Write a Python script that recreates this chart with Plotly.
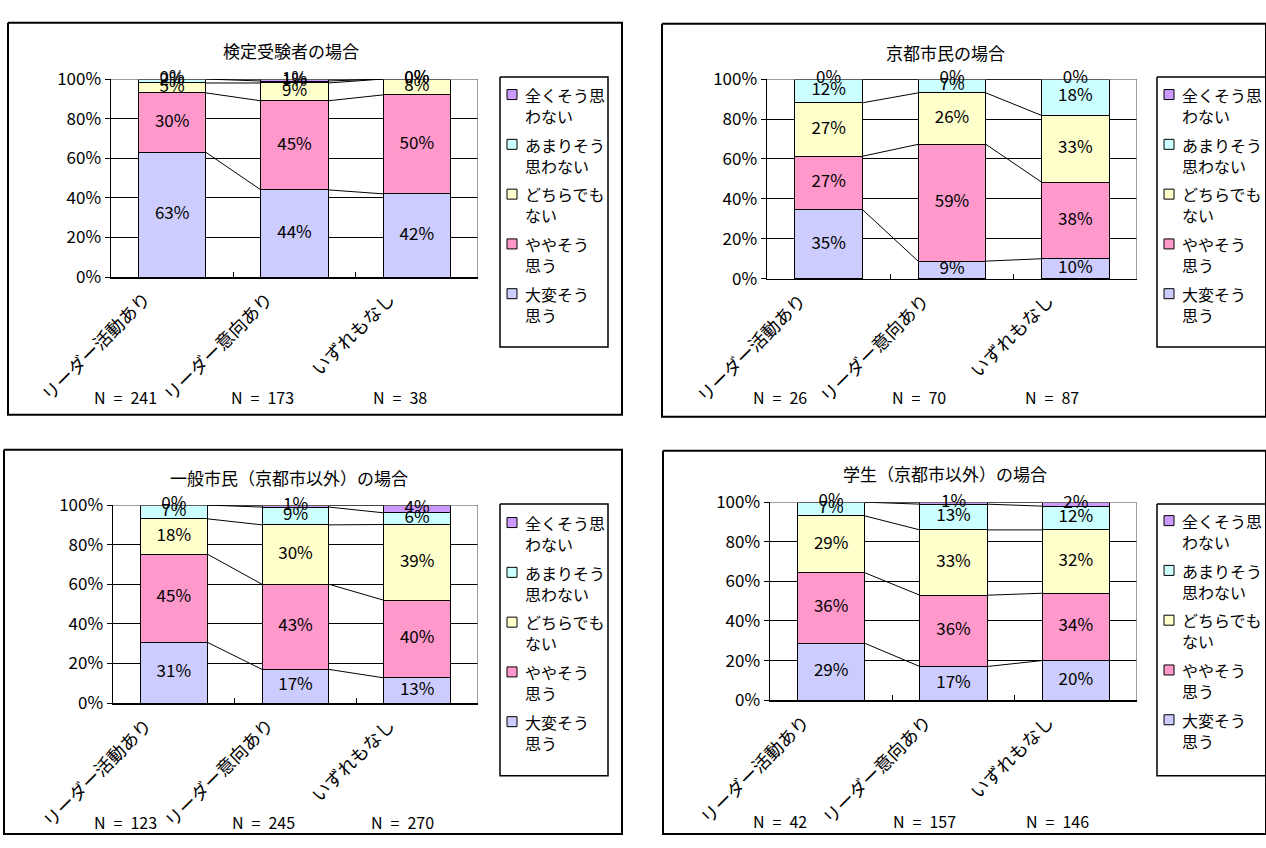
import numpy as np
import plotly.graph_objects as go

# ---- data -------------------------------------------------------------
categories = ["リーダー活動あり", "リーダー意向あり", "いずれもなし"]
series_names = ["大変そう思う", "ややそう思う", "どちらでもない", "あまりそう思わない", "全くそう思わない"]
legend_labels = ["大変そう<br>思う", "ややそう<br>思う", "どちらでも<br>ない", "あまりそう<br>思わない", "全くそう思<br>わない"]

panel_titles = ["検定受験者の場合", "京都市民の場合", "一般市民（京都市以外）の場合", "学生（京都市以外）の場合"]

# percentages per series (bottom to top), one value per category
exam_values = [[63, 44, 42], [30, 45, 50], [5, 9, 8], [2, 1, 0], [0, 1, 0]]
kyoto_values = [[35, 9, 10], [27, 59, 38], [27, 26, 33], [12, 7, 18], [0, 0, 0]]
general_values = [[31, 17, 13], [45, 43, 40], [18, 30, 39], [7, 9, 6], [0, 1, 4]]
student_values = [[29, 17, 20], [36, 36, 34], [29, 33, 32], [7, 13, 12], [0, 1, 2]]

exam_n = [241, 173, 38]
kyoto_n = [26, 70, 87]
general_n = [123, 245, 270]
student_n = [42, 157, 146]

# ---- style ------------------------------------------------------------
colors = ["#CCCCFF", "#FF99CC", "#FFFFCC", "#CCFFFF", "#CC99FF"]
FONT = "Noto Sans CJK JP"
W, H = 1266, 848
BAR_W = 0.55

# pixel geometry of each panel (frames on the right run to the page edge)
layout_px = [
    dict(frame=(8, 9, 622, 413), plot=(111, 67, 478, 271), title=(291, 38),
         legend=(500, 65, 608, 343), first=83, nx=[125, 262, 400], ny=395),
    dict(frame=(662, 10, W, 415), plot=(767, 67, 1137, 273), title=(945, 40),
         legend=(1157, 65, W, 343), first=83, nx=[780, 919, 1052], ny=395),
    dict(frame=(4, 449, 622, 845), plot=(113, 506, 478, 710), title=(289, 478),
         legend=(500, 505, 608, 785), first=524, nx=[125, 263, 403], ny=833),
    dict(frame=(663, 450, W, 845), plot=(770, 503, 1137, 707), title=(945, 473),
         legend=(1157, 505, W, 785), first=522, nx=[780, 924, 1057], ny=831),
]

panel_values = [exam_values, kyoto_values, general_values, student_values]
panel_n = [exam_n, kyoto_n, general_n, student_n]


def fx(x):
    return x / W


def fy(y):
    return 1 - y / H


def rect_path(x0, y0, x1, y1):
    return [x0, x1, x1, x0, x0, None], [y0, y0, y1, y1, y0, None]


fig = go.Figure()
annotations = []
xpos = np.arange(len(categories))
SP = "\u2002"  # en space for the sample-size captions

# page-sized overlay axes (pixel units) for frames and legend boxes
frame_x, frame_y = [], []
box_x, box_y = [], []
key_x, key_y, key_c = [], [], []

for p, (vals, ns, geo, title) in enumerate(zip(panel_values, panel_n, layout_px, panel_titles)):
    sfx = "" if p == 0 else str(p + 1)
    xa, ya = "x" + sfx, "y" + sfx
    arr = np.array(vals, dtype=float)
    pct = arr / arr.sum(axis=0) * 100
    cum = np.cumsum(pct, axis=0)

    for k, name in enumerate(series_names):
        fig.add_trace(go.Bar(
            x=xpos, y=arr[k], name=name, width=BAR_W,
            marker=dict(color=colors[k], line=dict(color="black", width=1)),
            xaxis=xa, yaxis=ya, showlegend=False, hoverinfo="skip",
        ))

    # grey top and right edges of the plot area
    fig.add_trace(go.Scatter(x=[-0.5, 2.5, 2.5], y=[100, 100, 0], mode="lines",
                             line=dict(color="#808080", width=1.5), cliponaxis=False,
                             xaxis=xa, yaxis=ya, showlegend=False, hoverinfo="skip"))

    # series lines joining the segment tops of neighbouring bars
    lx, ly = [], []
    for k in range(len(series_names)):
        for i in range(len(categories) - 1):
            lx += [xpos[i] + BAR_W / 2, xpos[i + 1] - BAR_W / 2, None]
            ly += [cum[k, i], cum[k, i + 1], None]
    fig.add_trace(go.Scatter(x=lx, y=ly, mode="lines", line=dict(color="black", width=1),
                             xaxis=xa, yaxis=ya, showlegend=False, hoverinfo="skip"))

    # data labels in the middle of each segment
    for k in range(len(series_names)):
        mid = cum[k] - pct[k] / 2
        fig.add_trace(go.Scatter(
            x=xpos, y=mid, mode="text", text=[f"{int(v)}%" for v in arr[k]],
            textfont=dict(family=FONT, size=17, color="black"), textposition="middle center",
            xaxis=xa, yaxis=ya, showlegend=False, hoverinfo="skip", cliponaxis=False,
        ))

    x0, y0, x1, y1 = geo["plot"]
    fig.layout["xaxis" + sfx] = dict(
        domain=[fx(x0), fx(x1)], anchor=ya, range=[-0.5, 2.5],
        tickvals=list(xpos), showticklabels=False, ticks="",
        minor=dict(tickvals=[0.5, 1.5], ticks="inside", ticklen=5, tickcolor="black", showgrid=False),
        showline=True, linecolor="black", linewidth=1.5, showgrid=False, zeroline=False,
    )
    fig.layout["yaxis" + sfx] = dict(
        domain=[fy(y1), fy(y0)], anchor=xa, range=[0, 100],
        tickvals=[0, 20, 40, 60, 80, 100], ticktext=["0%", "20%", "40%", "60%", "80%", "100%"],
        ticks="outside", ticklen=5, tickcolor="black",
        showline=True, linecolor="black", linewidth=1.5,
        showgrid=True, gridcolor="black", gridwidth=1, zeroline=False,
        tickfont=dict(family=FONT, size=17, color="black"),
    )

    # slanted category names under the axis
    for i, cat in enumerate(categories):
        annotations.append(dict(text=cat, x=xpos[i], y=0, xref=xa, yref=ya + " domain",
                                xanchor="right", yanchor="top", xshift=-16, yshift=-7,
                                textangle=-45, showarrow=False, borderpad=0,
                                font=dict(family=FONT, size=18, color="black")))

    # panel frame and legend box outlines
    px_, py_ = rect_path(*geo["frame"])
    frame_x += px_
    frame_y += py_
    bx_, by_ = rect_path(*geo["legend"])
    box_x += bx_
    box_y += by_

    # title
    tx, ty = geo["title"]
    annotations.append(dict(text=title, x=fx(tx), y=fy(ty), xref="paper", yref="paper",
                            xanchor="center", yanchor="middle", showarrow=False,
                            font=dict(family=FONT, size=17, color="black")))

    # sample sizes
    for n, nx in zip(ns, geo["nx"]):
        annotations.append(dict(text=f"N{SP}={SP}{n}", x=fx(nx), y=fy(geo["ny"]), xref="paper", yref="paper",
                                xanchor="center", yanchor="middle", showarrow=False, borderpad=0,
                                font=dict(family=FONT, size=16, color="black")))

    # legend entries, top entry = last series
    lx0 = geo["legend"][0]
    for j, k in enumerate(reversed(range(len(series_names)))):
        cy = geo["first"] + j * 51.3
        key_x.append(lx0 + 12)
        key_y.append(cy)
        key_c.append(colors[k])
        annotations.append(dict(text=legend_labels[k], x=fx(lx0 + 23), y=fy(cy + 11),
                                xref="paper", yref="paper", xanchor="left", yanchor="middle",
                                align="left", showarrow=False,
                                font=dict(family=FONT, size=16, color="black")))

fig.add_trace(go.Scatter(x=frame_x, y=frame_y, mode="lines", line=dict(color="black", width=2),
                         xaxis="x5", yaxis="y5", showlegend=False, hoverinfo="skip"))
fig.add_trace(go.Scatter(x=box_x, y=box_y, mode="lines", line=dict(color="black", width=1.5),
                         xaxis="x5", yaxis="y5", showlegend=False, hoverinfo="skip"))
fig.add_trace(go.Scatter(x=key_x, y=key_y, mode="markers",
                         marker=dict(symbol="square", size=10, color=key_c, line=dict(color="black", width=1)),
                         xaxis="x5", yaxis="y5", showlegend=False, hoverinfo="skip"))

fig.layout["xaxis5"] = dict(domain=[0, 1], anchor="y5", range=[0, W], visible=False, fixedrange=True)
fig.layout["yaxis5"] = dict(domain=[0, 1], anchor="x5", range=[H, 0], visible=False, fixedrange=True)

fig.update_layout(
    width=W, height=H, margin=dict(l=0, r=0, t=0, b=0),
    barmode="stack", barnorm="percent", bargap=0.45,
    paper_bgcolor="white", plot_bgcolor="rgba(0,0,0,0)",
    annotations=annotations,
    font=dict(family=FONT, color="black"),
)

fig.write_html("out.html", config={"staticPlot": True})
